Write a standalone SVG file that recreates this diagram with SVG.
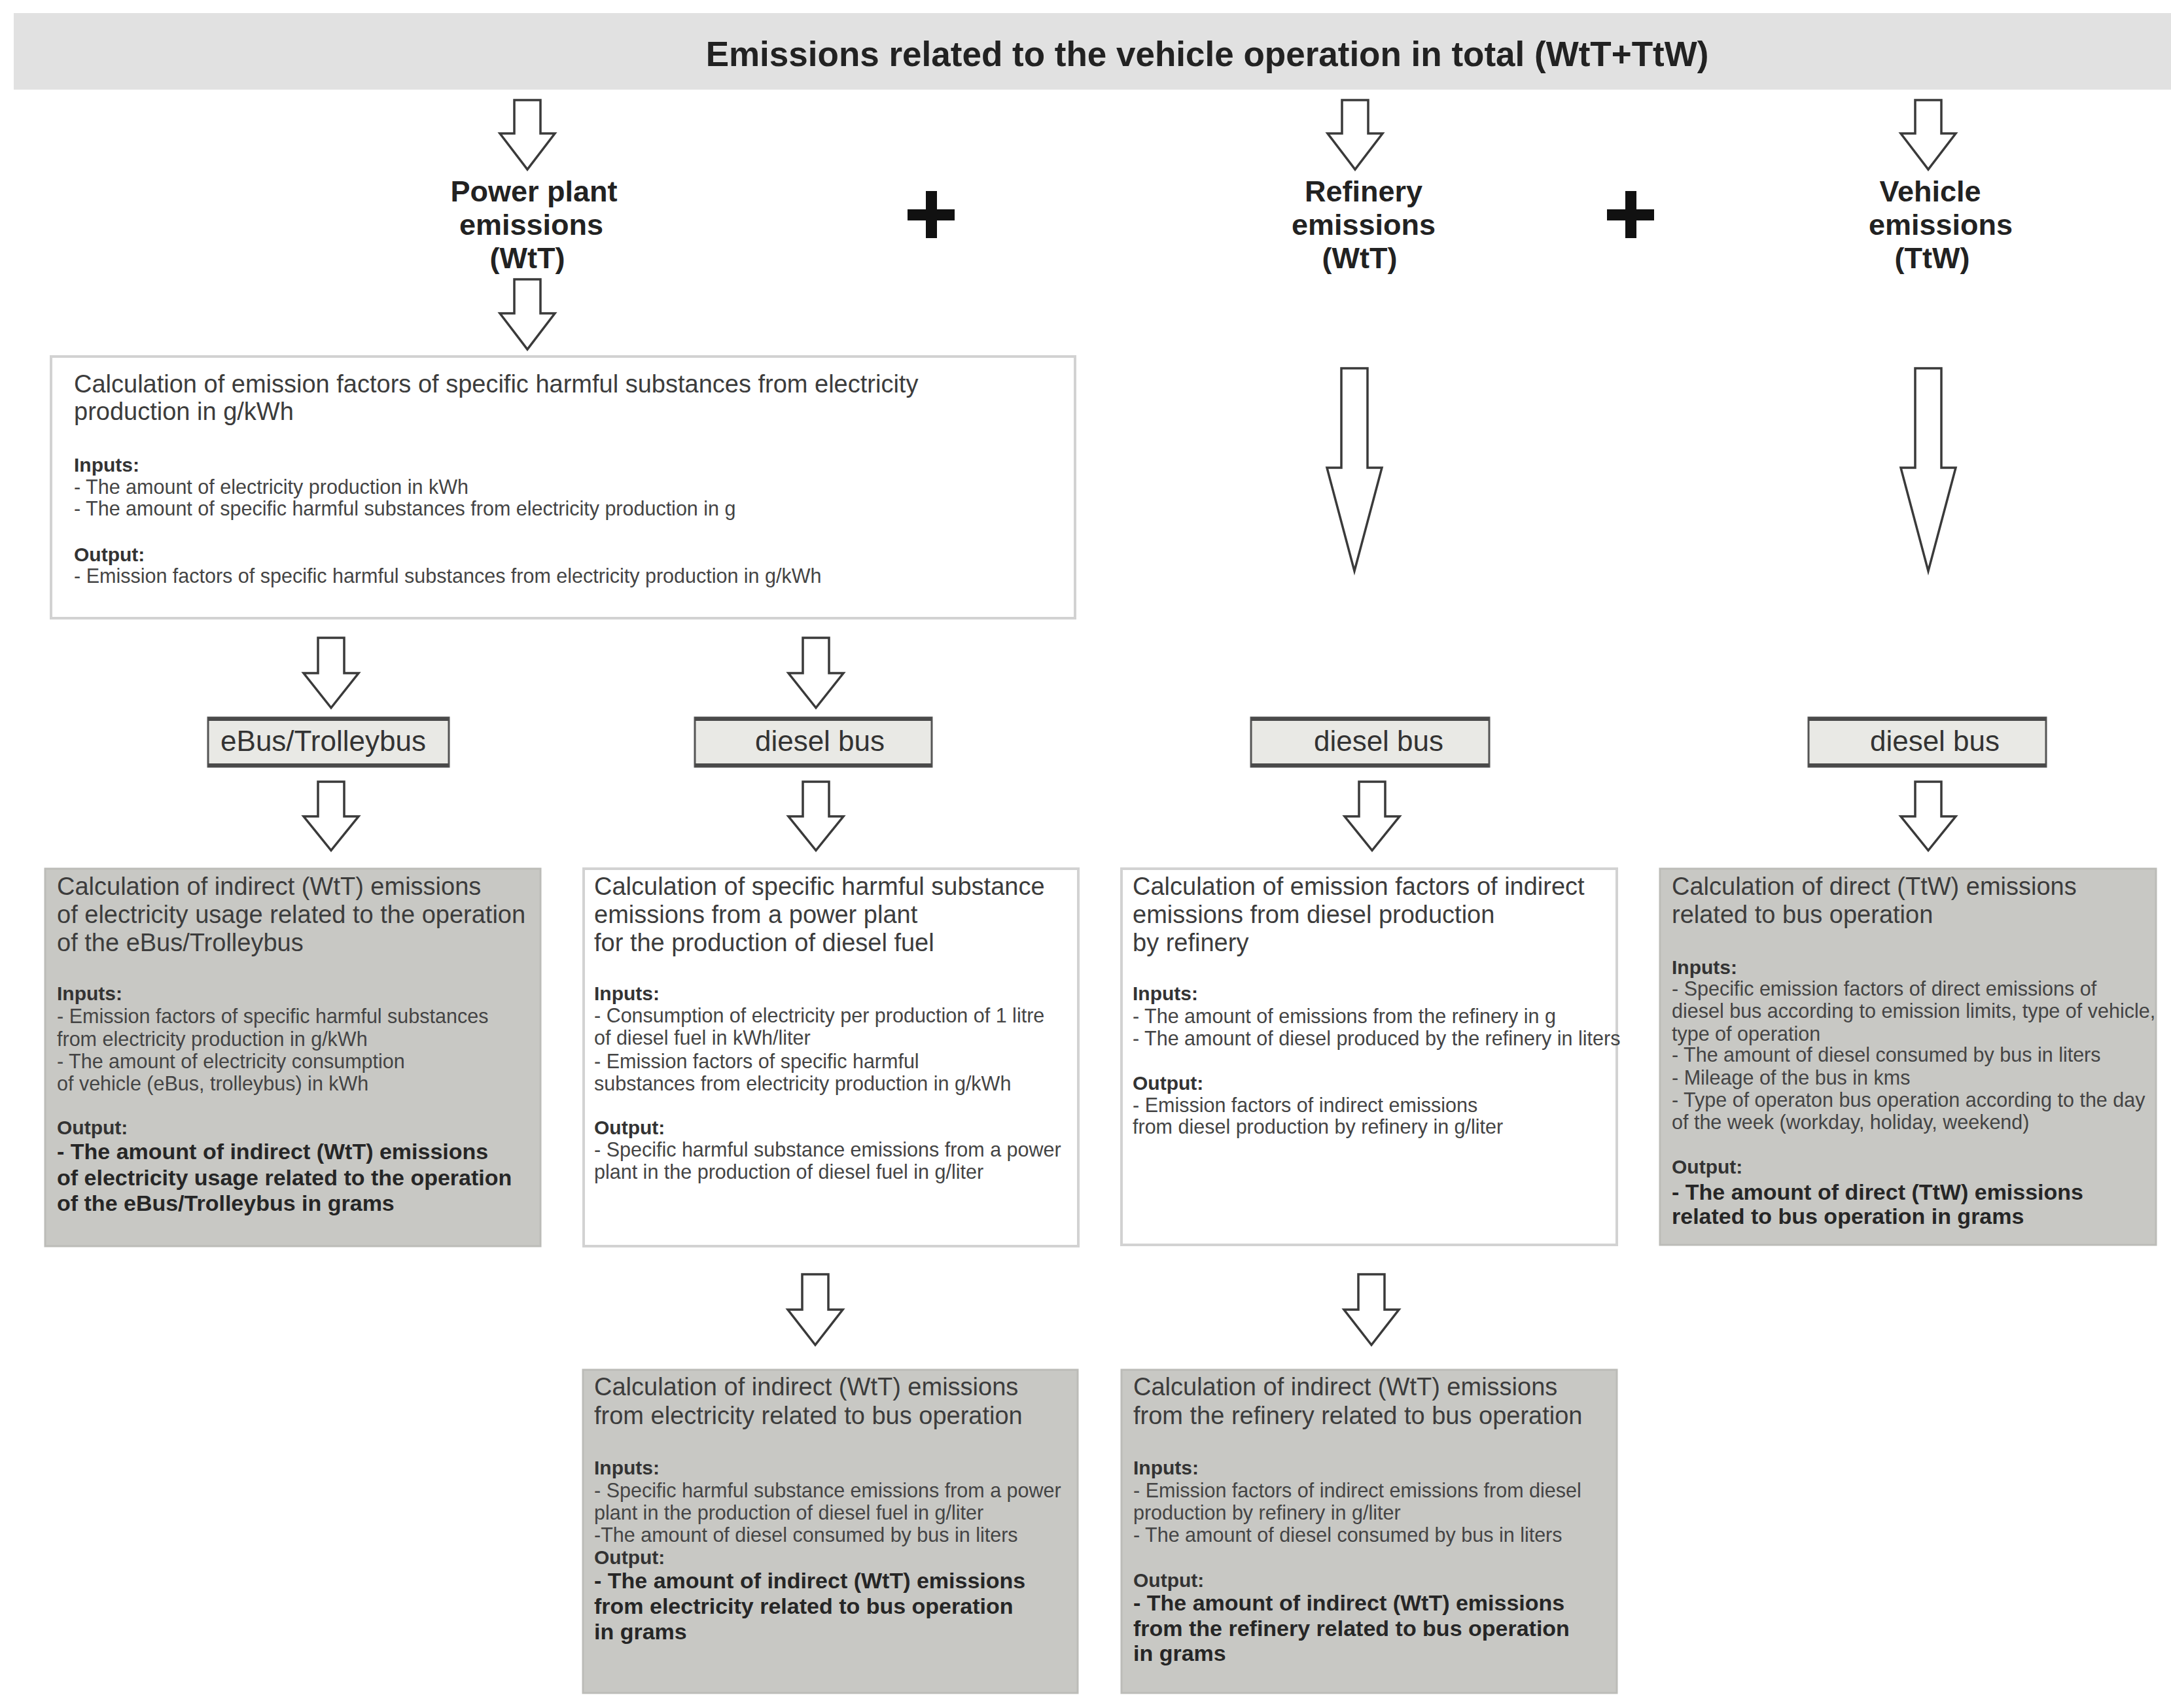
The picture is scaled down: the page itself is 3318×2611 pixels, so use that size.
<svg xmlns="http://www.w3.org/2000/svg" width="3318" height="2611" viewBox="0 0 3318 2611">
<style>
text{font-family:"Liberation Sans",Arial,sans-serif}
.hdr{font-size:45px;font-weight:bold;fill:#222;text-anchor:middle}
.ttl{font-size:38px;fill:#3c3c3c}
.lbl{font-size:30px;font-weight:bold;fill:#333}
.itm{font-size:30.5px;fill:#444}
.out{font-size:34px;font-weight:bold;fill:#262626}
.typ{font-size:44px;fill:#333;text-anchor:middle}
.wbox{fill:#fff;stroke:#d2d2d2;stroke-width:4}
.gbox{fill:#c8c8c4;stroke:#bcbcb8;stroke-width:3}
.tbox{fill:#e9e9e5;stroke:#555;stroke-width:3}
.tline{stroke:#4a4a4a;stroke-width:6}
.arr{fill:#fff;stroke:#3a3a3a;stroke-width:3.5;stroke-linejoin:miter}
.plus{fill:#111}
</style>
<rect width="3318" height="2611" fill="#fff"/>

<g id="title">
<rect x="21" y="20" width="3297" height="117" fill="#e1e1e1"/>
<text x="1845" y="101" style="font-size:53px;font-weight:bold;fill:#222;text-anchor:middle">Emissions related to the vehicle operation in total (WtT+TtW)</text>
</g>

<g id="connectors">
<polygon class="arr" points="786,153 826,153 826,204 848,204 806,259 764,204 786,204"/>
<polygon class="arr" points="2051,153 2091,153 2091,204 2113,204 2071,259 2029,204 2051,204"/>
<polygon class="arr" points="2927,153 2967,153 2967,204 2989,204 2947,259 2905,204 2927,204"/>
<polygon class="arr" points="786,427 826,427 826,479 848,479 806,534 764,479 786,479"/>
<polygon class="arr" points="486,975 526,975 526,1029 548,1029 506,1082 464,1029 486,1029"/>
<polygon class="arr" points="1227,975 1267,975 1267,1029 1289,1029 1247,1082 1205,1029 1227,1029"/>
<polygon class="arr" points="2050,563 2090,563 2090,715 2112,715 2070,873 2028,715 2050,715"/>
<polygon class="arr" points="2927,563 2967,563 2967,715 2989,715 2947,873 2905,715 2927,715"/>
<polygon class="arr" points="486,1195 526,1195 526,1248 548,1248 506,1300 464,1248 486,1248"/>
<polygon class="arr" points="1227,1195 1267,1195 1267,1248 1289,1248 1247,1300 1205,1248 1227,1248"/>
<polygon class="arr" points="2077,1195 2117,1195 2117,1248 2139,1248 2097,1300 2055,1248 2077,1248"/>
<polygon class="arr" points="2927,1195 2967,1195 2967,1248 2989,1248 2947,1300 2905,1248 2927,1248"/>
<polygon class="arr" points="1226,1948 1266,1948 1266,2002 1288,2002 1246,2056 1204,2002 1226,2002"/>
<polygon class="arr" points="2076,1948 2116,1948 2116,2002 2138,2002 2096,2056 2054,2002 2076,2002"/>
</g>

<g id="plus-signs">
<rect class="plus" x="1387" y="320" width="72" height="17"/>
<rect class="plus" x="1415" y="292" width="17" height="72"/>
<rect class="plus" x="2456" y="320" width="72" height="17"/>
<rect class="plus" x="2484" y="292" width="17" height="72"/>
</g>

<g id="power-plant">
<text class="hdr" x="816" y="308">Power plant</text>
<text class="hdr" x="812" y="359">emissions</text>
<text class="hdr" x="806" y="410">(WtT)</text>
</g>
<g id="refinery">
<text class="hdr" x="2084" y="308">Refinery</text>
<text class="hdr" x="2084" y="359">emissions</text>
<text class="hdr" x="2078" y="410">(WtT)</text>
</g>
<g id="vehicle">
<text class="hdr" x="2950" y="308">Vehicle</text>
<text class="hdr" x="2966" y="359">emissions</text>
<text class="hdr" x="2953" y="410">(TtW)</text>
</g>

<g id="box-emission-factors">
<rect class="wbox" x="78" y="545" width="1565" height="400"/>
<text class="ttl" x="113" y="600">Calculation of emission factors of specific harmful substances from electricity</text>
<text class="ttl" x="113" y="642">production in g/kWh</text>
<text class="lbl" x="113" y="721">Inputs:</text>
<text class="itm" x="113" y="755">- The amount of electricity production in kWh</text>
<text class="itm" x="113" y="788">- The amount of specific harmful substances from electricity production in g</text>
<text class="lbl" x="113" y="858">Output:</text>
<text class="itm" x="113" y="891">- Emission factors of specific harmful substances from electricity production in g/kWh</text>
</g>

<g id="type-ebus">
<rect class="tbox" x="318" y="1097" width="368" height="75"/>
<line class="tline" x1="318" y1="1099" x2="686" y2="1099"/>
<line class="tline" x1="318" y1="1170" x2="686" y2="1170"/>
<text class="typ" x="494" y="1148">eBus/Trolleybus</text>
</g>
<g id="type-diesel-1">
<rect class="tbox" x="1062" y="1097" width="362" height="75"/>
<line class="tline" x1="1062" y1="1099" x2="1424" y2="1099"/>
<line class="tline" x1="1062" y1="1170" x2="1424" y2="1170"/>
<text class="typ" x="1253" y="1148">diesel bus</text>
</g>
<g id="type-diesel-2">
<rect class="tbox" x="1912" y="1097" width="364" height="75"/>
<line class="tline" x1="1912" y1="1099" x2="2276" y2="1099"/>
<line class="tline" x1="1912" y1="1170" x2="2276" y2="1170"/>
<text class="typ" x="2107" y="1148">diesel bus</text>
</g>
<g id="type-diesel-3">
<rect class="tbox" x="2764" y="1097" width="363" height="75"/>
<line class="tline" x1="2764" y1="1099" x2="3127" y2="1099"/>
<line class="tline" x1="2764" y1="1170" x2="3127" y2="1170"/>
<text class="typ" x="2957" y="1148">diesel bus</text>
</g>

<g id="box-ebus-indirect">
<rect class="gbox" x="69" y="1328" width="757" height="577"/>
<text class="ttl" x="87" y="1368">Calculation of indirect (WtT) emissions</text>
<text class="ttl" x="87" y="1411">of electricity usage related to the operation</text>
<text class="ttl" x="87" y="1454">of the eBus/Trolleybus</text>
<text class="lbl" x="87" y="1529">Inputs:</text>
<text class="itm" x="87" y="1564">- Emission factors of specific harmful substances</text>
<text class="itm" x="87" y="1599">from electricity production in g/kWh</text>
<text class="itm" x="87" y="1633">- The amount of electricity consumption</text>
<text class="itm" x="87" y="1667">of vehicle (eBus, trolleybus) in kWh</text>
<text class="lbl" x="87" y="1734">Output:</text>
<text class="out" x="87" y="1772">- The amount of indirect (WtT) emissions</text>
<text class="out" x="87" y="1812">of electricity usage related to the operation</text>
<text class="out" x="87" y="1851">of the eBus/Trolleybus in grams</text>
</g>

<g id="box-power-plant-diesel">
<rect class="wbox" x="892" y="1328" width="756" height="577"/>
<text class="ttl" x="908" y="1368">Calculation of specific harmful substance</text>
<text class="ttl" x="908" y="1411">emissions from a power plant</text>
<text class="ttl" x="908" y="1454">for the production of diesel fuel</text>
<text class="lbl" x="908" y="1529">Inputs:</text>
<text class="itm" x="908" y="1563">- Consumption of electricity per production of 1 litre</text>
<text class="itm" x="908" y="1597">of diesel fuel in kWh/liter</text>
<text class="itm" x="908" y="1633">- Emission factors of specific harmful</text>
<text class="itm" x="908" y="1667">substances from electricity production in g/kWh</text>
<text class="lbl" x="908" y="1734">Output:</text>
<text class="itm" x="908" y="1768">- Specific harmful substance emissions from a power</text>
<text class="itm" x="908" y="1802">plant in the production of diesel fuel in g/liter</text>
</g>

<g id="box-refinery-factors">
<rect class="wbox" x="1714" y="1328" width="757" height="575"/>
<text class="ttl" x="1731" y="1368">Calculation of emission factors of indirect</text>
<text class="ttl" x="1731" y="1411">emissions from diesel production</text>
<text class="ttl" x="1731" y="1454">by refinery</text>
<text class="lbl" x="1731" y="1529">Inputs:</text>
<text class="itm" x="1731" y="1564">- The amount of emissions from the refinery in g</text>
<text class="itm" x="1731" y="1598">- The amount of diesel produced by the refinery in liters</text>
<text class="lbl" x="1731" y="1666">Output:</text>
<text class="itm" x="1731" y="1700">- Emission factors of indirect emissions</text>
<text class="itm" x="1731" y="1733">from diesel production by refinery in g/liter</text>
</g>

<g id="box-direct-ttw">
<rect class="gbox" x="2537" y="1328" width="758" height="575"/>
<text class="ttl" x="2555" y="1368">Calculation of direct (TtW) emissions</text>
<text class="ttl" x="2555" y="1411">related to bus operation</text>
<text class="lbl" x="2555" y="1489">Inputs:</text>
<text class="itm" x="2555" y="1522">- Specific emission factors of direct emissions of</text>
<text class="itm" x="2555" y="1556">diesel bus according to emission limits, type of vehicle,</text>
<text class="itm" x="2555" y="1591">type of operation</text>
<text class="itm" x="2555" y="1623">- The amount of diesel consumed by bus in liters</text>
<text class="itm" x="2555" y="1658">- Mileage of the bus in kms</text>
<text class="itm" x="2555" y="1692">- Type of operaton bus operation according to the day</text>
<text class="itm" x="2555" y="1726">of the week (workday, holiday, weekend)</text>
<text class="lbl" x="2555" y="1794">Output:</text>
<text class="out" x="2555" y="1834">- The amount of direct (TtW) emissions</text>
<text class="out" x="2555" y="1871">related to bus operation in grams</text>
</g>

<g id="box-electricity-bus">
<rect class="gbox" x="891" y="2094" width="756" height="494"/>
<text class="ttl" x="908" y="2133">Calculation of indirect (WtT) emissions</text>
<text class="ttl" x="908" y="2177">from electricity related to bus operation</text>
<text class="lbl" x="908" y="2254">Inputs:</text>
<text class="itm" x="908" y="2289">- Specific harmful substance emissions from a power</text>
<text class="itm" x="908" y="2323">plant in the production of diesel fuel in g/liter</text>
<text class="itm" x="908" y="2357">-The amount of diesel consumed by bus in liters</text>
<text class="lbl" x="908" y="2391">Output:</text>
<text class="out" x="908" y="2428">- The amount of indirect (WtT) emissions</text>
<text class="out" x="908" y="2467">from electricity related to bus operation</text>
<text class="out" x="908" y="2506">in grams</text>
</g>

<g id="box-refinery-bus">
<rect class="gbox" x="1714" y="2094" width="757" height="494"/>
<text class="ttl" x="1732" y="2133">Calculation of indirect (WtT) emissions</text>
<text class="ttl" x="1732" y="2177">from the refinery related to bus operation</text>
<text class="lbl" x="1732" y="2254">Inputs:</text>
<text class="itm" x="1732" y="2289">- Emission factors of indirect emissions from diesel</text>
<text class="itm" x="1732" y="2323">production by refinery in g/liter</text>
<text class="itm" x="1732" y="2357">- The amount of diesel consumed by bus in liters</text>
<text class="lbl" x="1732" y="2426">Output:</text>
<text class="out" x="1732" y="2462">- The amount of indirect (WtT) emissions</text>
<text class="out" x="1732" y="2501">from the refinery related to bus operation</text>
<text class="out" x="1732" y="2539">in grams</text>
</g>
</svg>
